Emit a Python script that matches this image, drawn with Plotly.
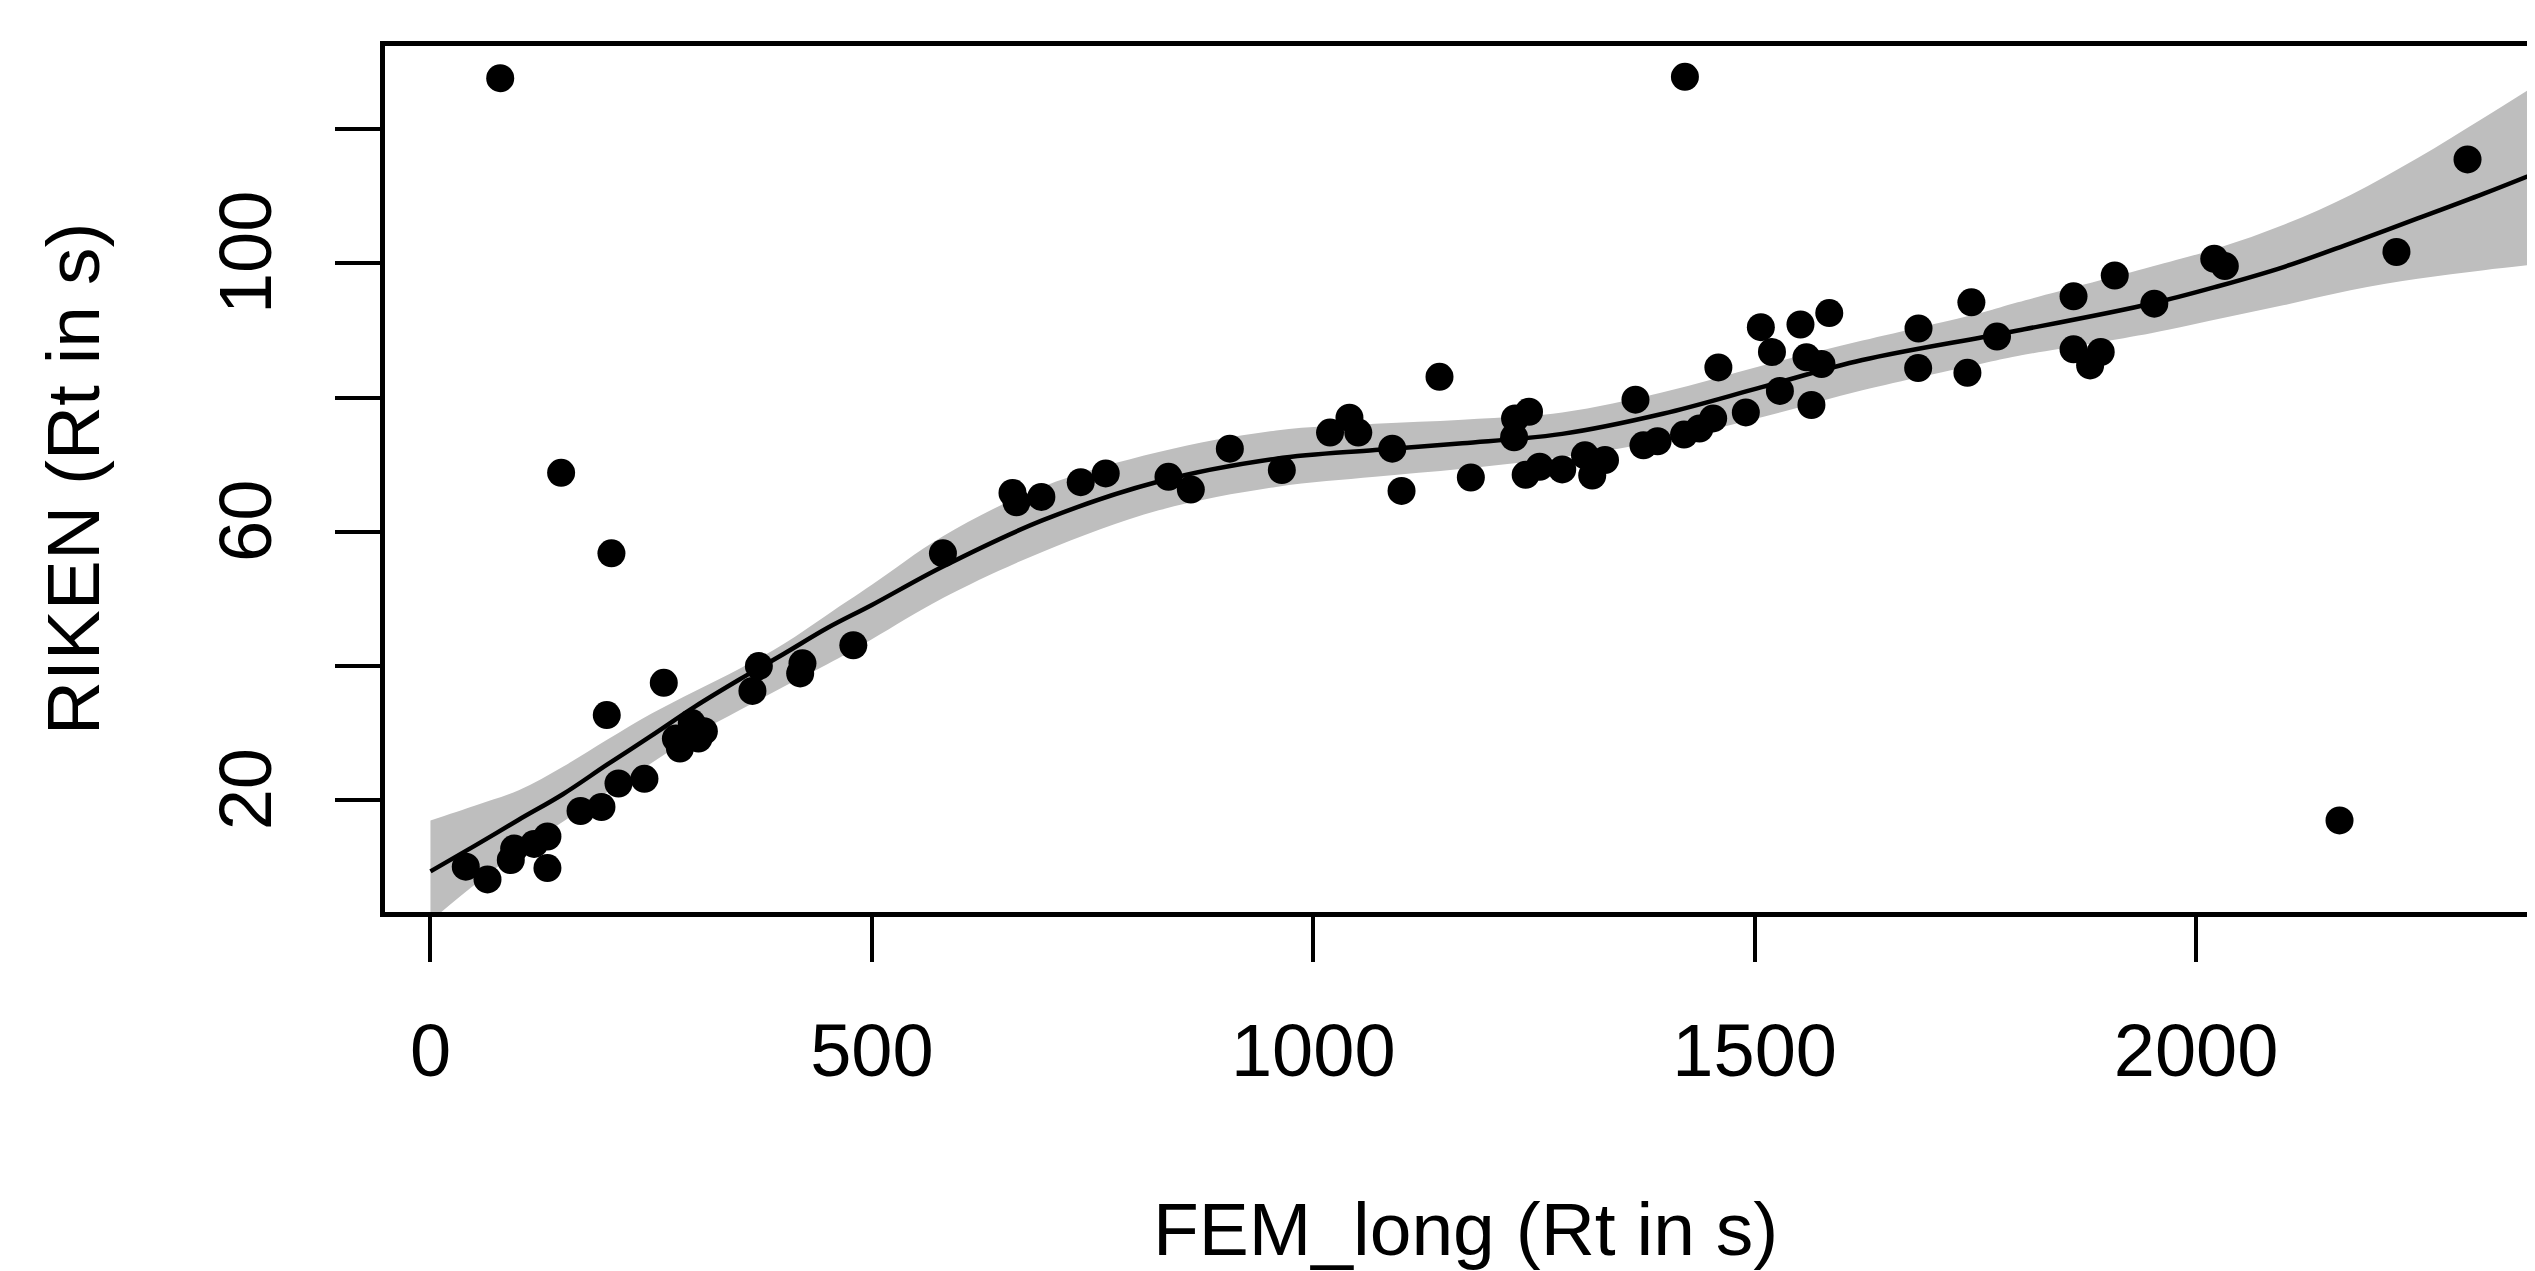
import plotly.graph_objects as go

# observed points: FEM_long vs RIKEN retention times (s)
fem_long = [40, 64.6, 79, 91, 94.8, 117.4, 132.5, 132.5, 148, 170,
            193.7, 199.7, 205, 213, 242.4, 264.3, 278, 282.6, 296, 303.6,
            309.7, 364.7, 372, 418.8, 421.4, 479, 580.5, 659.3, 663.8, 692,
            736.6, 764.9, 836, 861.3, 905.5, 964.4, 1019, 1041, 1051, 1089.5,
            1100, 1143, 1178.5, 1227.5, 1228.6, 1244.4, 1240.6, 1256.5, 1282, 1307.8,
            1316, 1330.5, 1365, 1374, 1390, 1420, 1421, 1437.5, 1453, 1458.9,
            1490, 1507, 1519.6, 1528.6, 1551.9, 1558.7, 1575.7, 1564.3, 1584.5, 1685.6,
            1685.2, 1745.5, 1741, 1774.5, 1861.2, 1907.9, 1861.2, 1892, 1880, 1952.7,
            2020.6, 2032.6, 2162.5, 2227, 2307.5]
riken = [10.1, 8.2, 127.6, 11.1, 12.8, 13.5, 14.6, 9.9, 68.8, 18.4,
         19.0, 32.7, 56.8, 22.5, 23.2, 37.5, 29.2, 27.7, 31.5, 29.2,
         30.3, 36.3, 40.0, 38.9, 40.4, 43.1, 56.8, 65.8, 64.4, 65.2,
         67.4, 68.7, 68.2, 66.3, 72.4, 69.2, 74.8, 77.0, 74.8, 72.4,
         66.1, 83.1, 68.1, 74.1, 76.9, 77.9, 68.5, 69.7, 69.3, 71.4,
         68.4, 70.7, 79.7, 72.9, 73.5, 74.5, 127.8, 75.4, 76.9, 84.5,
         77.8, 90.5, 86.8, 81.0, 90.9, 86.0, 85.0, 78.9, 92.6, 90.3,
         84.4, 94.2, 83.7, 89.1, 95.1, 98.2, 87.2, 86.8, 84.8, 94.0,
         100.7, 99.6, 17.0, 101.7, 115.5]

# smooth fit and its confidence band
fit_x = [0, 50, 100, 150, 200, 250, 300, 350, 400, 450, 500, 580, 693, 825, 958,
         1070, 1169, 1282, 1396, 1509, 1622, 1758, 1798, 1949, 2025, 2100, 2175, 2251, 2326, 2395]
fit_y = [9.4, 13.2, 17.1, 20.9, 25.3, 29.6, 34.0, 38.0, 41.8, 45.7, 49.1, 54.8, 61.7, 67.5, 70.9,
         72.2, 73.2, 74.6, 77.6, 81.6, 85.6, 89.0, 90.0, 94.0, 96.6, 99.5, 103.0, 106.7, 110.4, 114.0]
fit_hi = [17.0, 19.2, 21.5, 25.0, 29.0, 32.9, 36.3, 39.6, 43.3, 47.7, 52.1, 59.3, 66.7, 71.9, 75.1,
          76.1, 76.7, 77.8, 80.8, 84.8, 88.5, 92.7, 94.2, 99.5, 102.3, 105.8, 110.2, 115.7, 121.7, 127.4]
fit_lo = [2.0, 7.4, 12.4, 16.8, 21.2, 25.5, 29.8, 33.4, 36.9, 40.3, 44.0, 50.1, 57.0, 63.2, 66.7,
          68.2, 69.4, 71.1, 73.6, 77.1, 81.1, 85.1, 86.2, 89.6, 91.7, 93.8, 96.0, 97.7, 99.0, 100.0]

x_ticks = [0, 500, 1000, 1500, 2000]
y_ticks = [20, 40, 60, 80, 100, 120]
y_tick_text = ["20", "", "60", "", "100", ""]

FONT = "Liberation Sans, Arial, sans-serif"

fig = go.Figure()

# grey confidence band: upper edge, then lower edge filled up to it
fig.add_trace(go.Scatter(
    x=fit_x, y=fit_hi, mode="lines",
    line=dict(width=0, color="#BEBEBE", shape="spline", smoothing=1.0),
    hoverinfo="skip", showlegend=False))
fig.add_trace(go.Scatter(
    x=fit_x, y=fit_lo, mode="lines", fill="tonexty", fillcolor="#BEBEBE",
    line=dict(width=0, color="#BEBEBE", shape="spline", smoothing=1.0),
    hoverinfo="skip", showlegend=False))

fig.add_trace(go.Scatter(
    x=fit_x, y=fit_y, mode="lines",
    line=dict(color="black", width=4.5, shape="spline", smoothing=1.0),
    showlegend=False))

fig.add_trace(go.Scatter(
    x=fem_long, y=riken, mode="markers",
    marker=dict(color="black", size=28, line=dict(width=0)),
    showlegend=False))

fig.update_layout(
    width=2535, height=1271,
    margin=dict(l=377, r=0, t=38, b=367),
    paper_bgcolor="white", plot_bgcolor="white",
    font=dict(family=FONT, color="black", size=74),
    xaxis=dict(
        range=[-51.5, 2393], tickvals=x_ticks, ticks="outside",
        ticklen=45, tickwidth=3.5, tickcolor="black",
        showline=True, linewidth=5, linecolor="black", mirror=True,
        showgrid=False, zeroline=False, ticklabelstandoff=25,
        tickfont=dict(size=74, family=FONT)),
    yaxis=dict(
        range=[3.35, 132.4], tickvals=y_ticks, ticktext=y_tick_text,
        ticks="outside", ticklen=45, tickwidth=3.5, tickcolor="black",
        showline=True, linewidth=5, linecolor="black", mirror=False,
        showgrid=False, zeroline=False, tickangle=-90, ticklabelstandoff=34,
        tickfont=dict(size=74, family=FONT)),
    annotations=[
        dict(text="FEM_long (Rt in s)", xref="paper", yref="paper",
             x=0.5009, y=-0.3157, xanchor="center", yanchor="top",
             showarrow=False, font=dict(size=75, family=FONT)),
        dict(text="RIKEN (Rt in s)", xref="paper", yref="paper",
             x=-0.1445, y=0.5, xanchor="center", yanchor="middle",
             textangle=-90, showarrow=False, font=dict(size=75, family=FONT)),
    ],
)

fig.write_html("out.html")
